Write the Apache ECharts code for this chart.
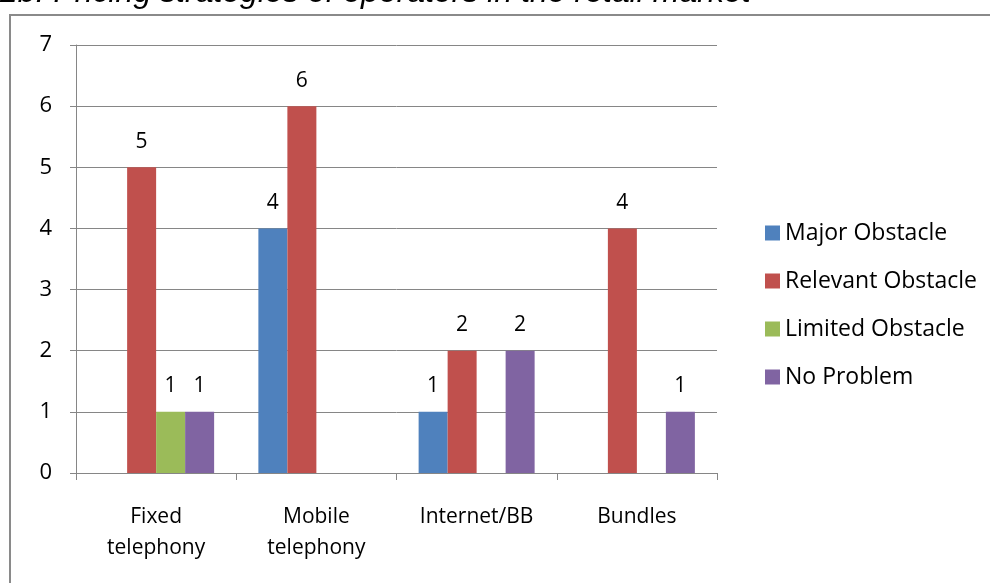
<!DOCTYPE html>
<html><head><meta charset="utf-8">
<script src="https://cdn.jsdelivr.net/npm/echarts@6/dist/echarts.min.js"></script>
<style>html,body{margin:0;padding:0;background:#fff}#c{width:990px;height:583px}</style>
</head><body><div id="c"></div>
<script>
const categories = ['Fixed\ntelephony', 'Mobile\ntelephony', 'Internet/BB', 'Bundles'];
const majorObstacle = [0, 4, 1, 0];
const relevantObstacle = [5, 6, 2, 4];
const limitedObstacle = [1, 0, 0, 0];
const noProblem = [1, 0, 2, 1];
const yTicks = [0, 7, 1];

const font = '"Open Sans", Lato, sans-serif';
const chart = echarts.init(document.getElementById('c'));
function mk(name, data, color) {
  return {
    name, type: 'bar', data, barWidth: 29, barGap: '0%',
    itemStyle: { color },
    label: { show: true, position: 'top', distance: 15, color: '#000', fontSize: 21, fontFamily: font,
      formatter: p => p.value === 0 ? '' : String(p.value) }
  };
}
chart.setOption({
  animation: false,
  graphic: [
    { type: 'rect', shape: { x: 10, y: 15, width: 1000, height: 600 }, style: { fill: 'none', stroke: '#8a8a8a', lineWidth: 2 }, z: -1 },
    { type: 'text', x: 0, y: -23, z: 10, style: { text: '2b. Pricing strategies of operators in the retail market', font: 'italic 32px "Liberation Sans", Arial, sans-serif', fill: '#000' } }
  ],
  grid: { left: 76, right: 273, top: 45, bottom: 110 },
  legend: {
    orient: 'vertical', left: 760, top: 216, itemGap: 24, itemWidth: 15, itemHeight: 15, icon: 'rect',
    textStyle: { fontSize: 23, lineHeight: 24, fontFamily: font, color: '#000', padding: [0, 0, 0, 0] },
    data: ['Major Obstacle', 'Relevant Obstacle', 'Limited Obstacle', 'No Problem']
  },
  xAxis: {
    type: 'category', data: categories,
    axisLine: { lineStyle: { color: '#868686' } },
    axisTick: { show: true, length: 7, lineStyle: { color: '#868686' } },
    axisLabel: { color: '#000', fontSize: 21, fontFamily: font, margin: 29, lineHeight: 31 }
  },
  yAxis: {
    type: 'value', min: yTicks[0], max: yTicks[1], interval: yTicks[2],
    axisLine: { show: true, lineStyle: { color: '#868686' } },
    axisTick: { show: true, length: 6, lineStyle: { color: '#868686' } },
    splitLine: { lineStyle: { color: '#868686' } },
    axisLabel: { color: '#000', fontSize: 22, fontFamily: font, margin: 24 }
  },
  series: [
    mk('Major Obstacle', majorObstacle, '#4F81BD'),
    mk('Relevant Obstacle', relevantObstacle, '#C0504D'),
    mk('Limited Obstacle', limitedObstacle, '#9BBB59'),
    mk('No Problem', noProblem, '#8064A2')
  ]
});
</script></body></html>
